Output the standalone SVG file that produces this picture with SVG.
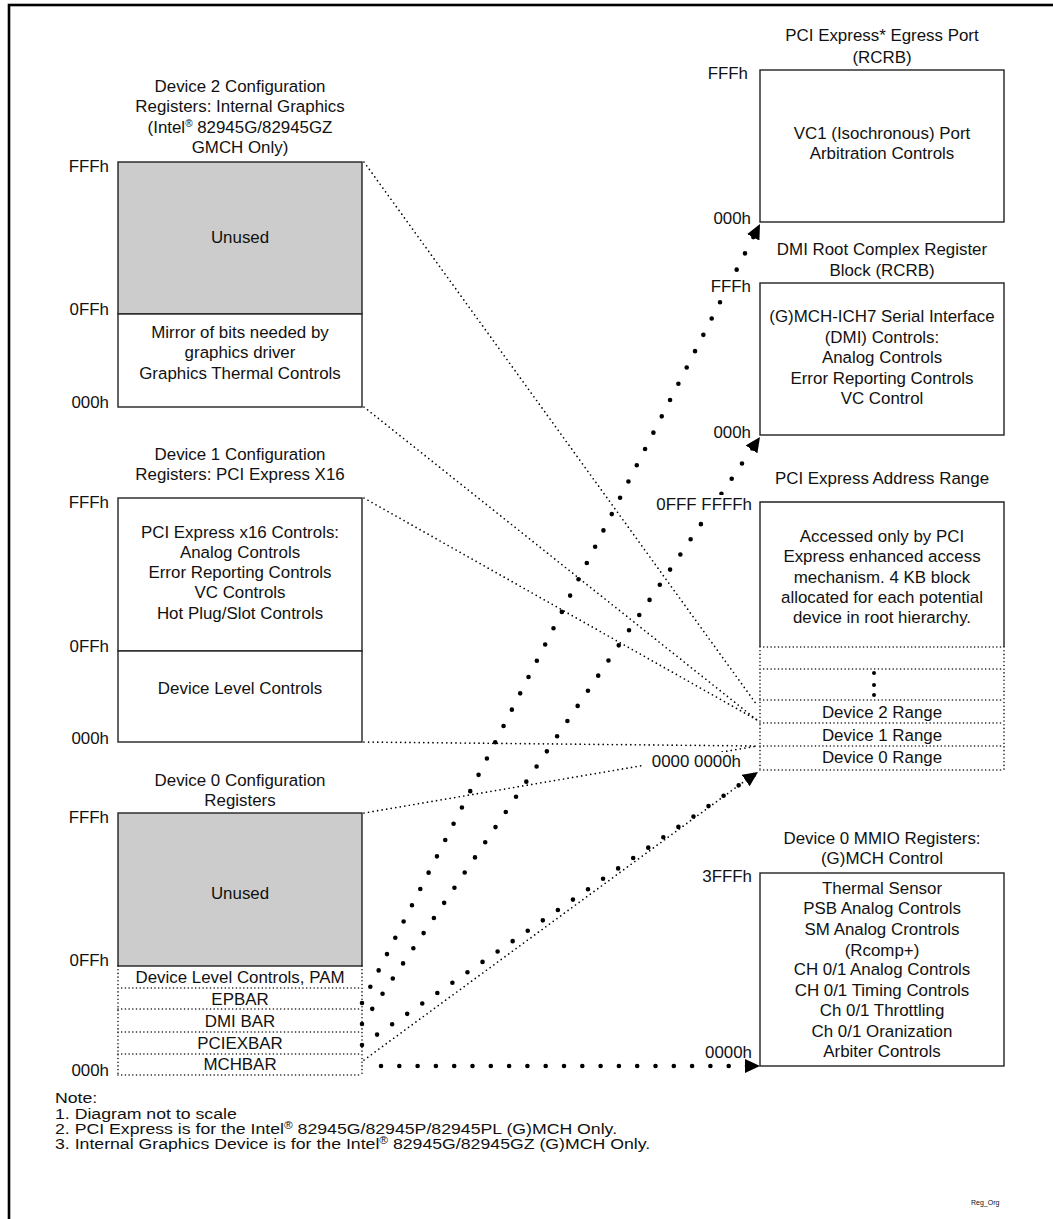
<svg xmlns="http://www.w3.org/2000/svg" width="1053" height="1219" viewBox="0 0 1053 1219">
<defs>
<style>
text{font-family:"Liberation Sans",Arial,sans-serif;font-size:16.9px;fill:#111}
.c{text-anchor:middle}
.r{text-anchor:end}
.note{font-size:15px}
.box{fill:#fff;stroke:#222;stroke-width:1.4}
.gray{fill:#cccccc;stroke:#222;stroke-width:1.4}
.sol{fill:none;stroke:#222;stroke-width:1.4}
.dot{fill:none;stroke:#111;stroke-width:1.6;stroke-linecap:round;stroke-dasharray:0 3.7}
.thin{fill:none;stroke:#000;stroke-width:1.7;stroke-linecap:round;stroke-dasharray:0 4.6}
.big{fill:none;stroke:#000;stroke-width:4.6;stroke-linecap:round;stroke-dasharray:0 18.3}
.sup{font-size:10px}
.bg{fill:#fff}
</style>
<marker id="ah" markerWidth="16" markerHeight="14" refX="15" refY="7" orient="auto" markerUnits="userSpaceOnUse"><path d="M0,0 L15,7 L0,14 z" fill="#000"/></marker>
</defs>
<rect x="0" y="0" width="1053" height="1219" fill="#fff"/>
<rect x="9" y="5" width="1100" height="1300" fill="none" stroke="#000" stroke-width="2.6"/>

<g id="connectors">
<line class="thin" x1="364" y1="162" x2="757" y2="705"/>
<line class="thin" x1="364" y1="407" x2="757" y2="720"/>
<line class="thin" x1="364" y1="498" x2="757" y2="720"/>
<line class="thin" x1="364" y1="742" x2="757" y2="746"/>
<line class="thin" x1="364" y1="813" x2="757" y2="746"/>
<line class="thin" x1="364" y1="1060" x2="757" y2="772"/>
<line class="big" x1="362" y1="1003" x2="760" y2="224" marker-end="url(#ah)"/>
<line class="big" x1="362" y1="1024" x2="760" y2="437" marker-end="url(#ah)"/>
<line class="big" x1="362" y1="1045" x2="758" y2="772" marker-end="url(#ah)"/>
<line class="big" x1="381" y1="1066" x2="760" y2="1066" marker-end="url(#ah)"/>
</g>

<g id="dev2">
<text class="c" x="240" y="92">Device 2 Configuration</text>
<text class="c" x="240" y="112">Registers: Internal Graphics</text>
<text class="c" x="240" y="133">(Intel<tspan class="sup" dy="-6">®</tspan><tspan dy="6"> 82945G/82945GZ</tspan></text>
<text class="c" x="240" y="153">GMCH Only)</text>
<rect class="gray" x="118" y="162" width="244" height="152"/>
<rect class="box" x="118" y="314" width="244" height="93"/>
<text class="c" x="240" y="243">Unused</text>
<text class="c" x="240" y="338">Mirror of bits needed by</text>
<text class="c" x="240" y="358">graphics driver</text>
<text class="c" x="240" y="379">Graphics Thermal Controls</text>
<text class="r" x="109" y="172">FFFh</text>
<text class="r" x="109" y="315">0FFh</text>
<text class="r" x="109" y="408">000h</text>
</g>

<g id="dev1">
<text class="c" x="240" y="460">Device 1 Configuration</text>
<text class="c" x="240" y="480">Registers: PCI Express X16</text>
<rect class="box" x="118" y="498" width="244" height="153"/>
<rect class="box" x="118" y="651" width="244" height="91"/>
<text class="c" x="240" y="538">PCI Express x16 Controls:</text>
<text class="c" x="240" y="558">Analog Controls</text>
<text class="c" x="240" y="578">Error Reporting Controls</text>
<text class="c" x="240" y="598">VC Controls</text>
<text class="c" x="240" y="619">Hot Plug/Slot Controls</text>
<text class="c" x="240" y="694">Device Level Controls</text>
<text class="r" x="109" y="508">FFFh</text>
<text class="r" x="109" y="652">0FFh</text>
<text class="r" x="109" y="744">000h</text>
</g>

<g id="dev0">
<text class="c" x="240" y="786">Device 0 Configuration</text>
<text class="c" x="240" y="806">Registers</text>
<rect class="gray" x="118" y="813" width="244" height="153"/>
<text class="c" x="240" y="899">Unused</text>
<path class="dot" d="M118,966 V1075 M362,966 V1075 M118,988 H362 M118,1009 H362 M118,1032 H362 M118,1054 H362 M118,1075 H362"/>
<text class="c" x="240" y="983">Device Level Controls, PAM</text>
<text class="c" x="240" y="1005">EPBAR</text>
<text class="c" x="240" y="1027">DMI BAR</text>
<text class="c" x="240" y="1049">PCIEXBAR</text>
<text class="c" x="240" y="1070">MCHBAR</text>
<text class="r" x="109" y="823">FFFh</text>
<text class="r" x="109" y="966">0FFh</text>
<text class="r" x="109" y="1076">000h</text>
</g>

<g id="egress">
<text class="c" x="882" y="41">PCI Express* Egress Port</text>
<text class="c" x="882" y="63">(RCRB)</text>
<rect class="box" x="760" y="70" width="244" height="152"/>
<text class="c" x="882" y="139">VC1 (Isochronous) Port</text>
<text class="c" x="882" y="159">Arbitration Controls</text>
<text class="r" x="748" y="79">FFFh</text>
<text class="r" x="751" y="224">000h</text>
</g>

<g id="dmi">
<text class="c" x="882" y="255">DMI Root Complex Register</text>
<text class="c" x="882" y="276">Block (RCRB)</text>
<rect class="box" x="760" y="283" width="244" height="152"/>
<text class="c" x="882" y="322">(G)MCH-ICH7 Serial Interface</text>
<text class="c" x="882" y="343">(DMI) Controls:</text>
<text class="c" x="882" y="363">Analog Controls</text>
<text class="c" x="882" y="384">Error Reporting Controls</text>
<text class="c" x="882" y="404">VC Control</text>
<rect class="bg" x="713" y="278" width="44" height="17"/>
<text class="r" x="751" y="292">FFFh</text>
<text class="r" x="751" y="438">000h</text>
</g>

<g id="pcie">
<text class="c" x="882" y="484">PCI Express Address Range</text>
<rect x="760" y="502" width="244" height="268" fill="#fff"/>
<path class="sol" d="M760,647 V502 H1004 V647"/>
<path class="dot" d="M760,647 V770 M1004,647 V770 M760,647 H1004 M760,669 H1004 M760,700 H1004 M760,723 H1004 M760,746 H1004 M760,770 H1004"/>
<text class="c" x="882" y="542">Accessed only by PCI</text>
<text class="c" x="882" y="562">Express enhanced access</text>
<text class="c" x="882" y="583">mechanism. 4 KB block</text>
<text class="c" x="882" y="603">allocated for each potential</text>
<text class="c" x="882" y="623">device in root hierarchy.</text>
<circle cx="874" cy="673" r="2"/>
<circle cx="874" cy="685" r="2"/>
<circle cx="874" cy="695" r="2"/>
<text class="c" x="882" y="718">Device 2 Range</text>
<text class="c" x="882" y="741">Device 1 Range</text>
<text class="c" x="882" y="763">Device 0 Range</text>
<rect class="bg" x="652" y="495" width="102" height="18"/>
<text class="r" x="752" y="510">0FFF FFFFh</text>
<rect class="bg" x="642" y="752" width="106" height="18"/>
<text class="r" x="741" y="767">0000 0000h</text>
</g>

<g id="mmio">
<text class="c" x="882" y="844">Device 0 MMIO Registers:</text>
<text class="c" x="882" y="864">(G)MCH Control</text>
<rect class="box" x="760" y="873" width="244" height="193"/>
<text class="c" x="882" y="894">Thermal Sensor</text>
<text class="c" x="882" y="914">PSB Analog Controls</text>
<text class="c" x="882" y="935">SM Analog Crontrols</text>
<text class="c" x="882" y="956">(Rcomp+)</text>
<text class="c" x="882" y="975">CH 0/1 Analog Controls</text>
<text class="c" x="882" y="996">CH 0/1 Timing Controls</text>
<text class="c" x="882" y="1016">Ch 0/1 Throttling</text>
<text class="c" x="882" y="1037">Ch 0/1 Oranization</text>
<text class="c" x="882" y="1057">Arbiter Controls</text>
<text class="r" x="752" y="882">3FFFh</text>
<text class="r" x="752" y="1058">0000h</text>
</g>

<g id="notes" transform="scale(1.18 1)">
<text class="note" x="46.6" y="1103">Note:</text>
<text class="note" x="46.6" y="1119">1. Diagram not to scale</text>
<text class="note" x="46.6" y="1134">2. PCI Express is for the Intel<tspan class="sup" dy="-5">®</tspan><tspan dy="5"> 82945G/82945P/82945PL (G)MCH Only.</tspan></text>
<text class="note" x="46.6" y="1149">3. Internal Graphics Device is for the Intel<tspan class="sup" dy="-5">®</tspan><tspan dy="5"> 82945G/82945GZ (G)MCH Only.</tspan></text>
</g>
<g id="tag">
<text x="971" y="1205" style="font-size:7px">Reg_Org</text>
</g>
</svg>
